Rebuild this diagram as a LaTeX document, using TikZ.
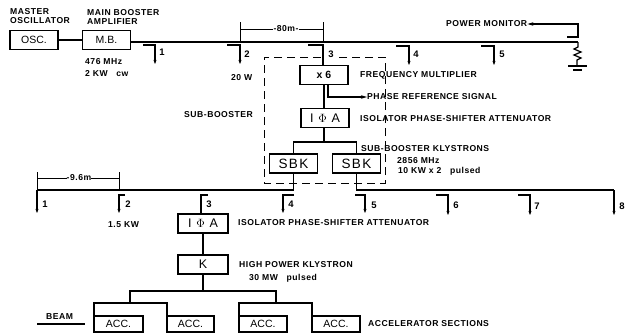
\documentclass[tikz,border=0pt]{standalone}
\usepackage{fontspec}
\setmainfont{Liberation Sans}
\newfontfamily\lblfont[LetterSpace=6]{Liberation Sans}
\newfontfamily\sbkfont[LetterSpace=10]{Liberation Sans}
\usetikzlibrary{arrows.meta}

\tikzset{
    unit/.style={draw, line width=1.4pt, inner sep=0pt, outer sep=0pt, font=\fontsize{10.5}{12}\selectfont},
    box/.style={unit, minimum width=48pt, minimum height=19pt},
    bigbox/.style={box, font=\sbkfont\fontsize{12.5}{13}\selectfont},
    sbkbox/.style={box, font=\sbkfont\fontsize{13.5}{14}\selectfont},
    accbox/.style={unit, minimum height=16pt},
    lbl/.style={anchor=west, inner sep=0pt, font=\lblfont\bfseries\fontsize{8.6}{9}\selectfont},
    tapnum/.style={inner sep=0pt, font=\bfseries\fontsize{9.5}{10}\selectfont},
    wire/.style={line width=1.2pt},
    tap/.style={line width=1.2pt},
    tapend/.style={tap, -{Stealth[length=4pt, width=3pt]}},
    bus/.style={line width=1.4pt},
    dimline/.style={line width=1pt},
}

\begin{document}
\begin{tikzpicture}[x=1pt, y=-1pt, >={Stealth[length=6pt, width=3.5pt]}]

    \useasboundingbox (0,0) rectangle (630,335);

    % --- Boxes ---
    \node[box] (osc) at (34,40) {OSC.};
    \node[box] (mb) at (106.5,40) {M.B.};
    \node[box, font=\bfseries\fontsize{10.5}{12}\selectfont] (mult) at (324,75) {x 6};
    \node[bigbox] (ipa) at (325,118) {I $\Phi$ A};
    \node[sbkbox] (sbkl) at (293.5,163.5) {SBK};
    \node[sbkbox] (sbkr) at (356.5,163.5) {SBK};
    \node[bigbox, minimum width=50pt] (ipb) at (203,223.5) {I $\Phi$ A};
    \node[bigbox, minimum width=50pt] (kly) at (203,264.5) {K};
    \node[accbox, minimum width=49pt] (acca) at (118.5,324) {ACC.};
    \node[accbox, minimum width=47pt] (accb) at (190.5,324) {ACC.};
    \node[accbox, minimum width=48pt] (accc) at (263,324) {ACC.};
    \node[accbox, minimum width=48pt] (accd) at (336,324) {ACC.};

    % --- Labels ---
    \node[lbl, align=left] (mo) at (10,16.5) {MASTER\\OSCILLATOR};
    \node[lbl, align=left] (ma) at (87,16.5) {MAIN BOOSTER\\AMPLIFIER};
    \node[lbl] (fa) at (85,62) {476 MHz};
    \node[lbl] (pa) at (85,74) {2 KW\ \ \ cw};
    \node[lbl] (pb) at (231,78) {20 W};
    \node[lbl] (sb) at (184,115) {SUB-BOOSTER};
    \node[lbl] (fm) at (360,75) {FREQUENCY MULTIPLIER};
    \node[lbl] (pr) at (367,97) {PHASE REFERENCE SIGNAL};
    \node[lbl] (ia) at (360,119) {ISOLATOR PHASE-SHIFTER ATTENUATOR};
    \node[lbl] (sk) at (361,149) {SUB-BOOSTER KLYSTRONS};
    \node[lbl] (fb) at (397,161) {2856 MHz};
    \node[lbl] (pc) at (398,171) {10 KW x 2\ \ \ pulsed};
    \node[lbl] (pd) at (108,225) {1.5 KW};
    \node[lbl] (ib) at (238,223) {ISOLATOR PHASE-SHIFTER ATTENUATOR};
    \node[lbl] (hk) at (239,265) {HIGH POWER KLYSTRON};
    \node[lbl] (pe) at (249,278) {30 MW\ \ \ pulsed};
    \node[lbl] (as) at (368,324) {ACCELERATOR SECTIONS};
    \node[lbl] (bm) at (46,317) {BEAM};
    \node[lbl] (pm) at (446,24) {POWER MONITOR};

    % --- Coordinates ---
    \coordinate (main) at (578,42); % end of the upper line
    \coordinate (pmc) at (567,37);
    \coordinate (lowl) at (37,190);
    \coordinate (lowm) at (293.5,190);
    \coordinate (lowr) at (356.5,190);
    \coordinate (lowe) at (614,190);
    \coordinate (split) at (203,291);
    \coordinate (spa) at (130,303);
    \coordinate (spb) at (276,303);
    \coordinate (bma) at (37,324);
    \coordinate (bmb) at (85,324);

    % --- Upper line ---
    \draw[wire] (osc) -- (mb);
    \draw[bus] (mb.east |- main) -- (main);

    % Taps on the upper line
    \draw[tapend] (143,45) -- (155,45) -- (155,64);
    \draw[tapend] (227,45) -- (240,45) -- (240,64);
    \draw[tap] (308,45) -- (323,45) -- (mult.north -| 323,0);
    \draw[tapend] (396,46) -- (409,46) -- (409,65);
    \draw[tapend] (481,46) -- (494,46) -- (494,65);
    \node[tapnum] (ua) at (162,52) {1};
    \node[tapnum] (ub) at (247,54) {2};
    \node[tapnum] (uc) at (331,54) {3};
    \node[tapnum] (ud) at (416,54) {4};
    \node[tapnum] (ue) at (502,54) {5};

    % Distance between taps
    \draw[dimline] (240,22) -- (240,42);
    \draw[dimline] (323,22) -- (323,42);
    \node[lbl, anchor=center] (dist) at (286,29) {-80m-};
    \draw[dimline] (240,29) -- (dist.west);
    \draw[dimline] (dist.east) -- (323,29);

    % Power monitor and load
    \draw[wire, ->] (pmc) -- (578,37) -- (578,24) -- (pm.east);
    \draw[wire] (main) -- (578,47) -- (574,49) -- (581,52) -- (574,55) -- (581,58) -- (577,60) -- (577,66);
    \draw[line width=1.6pt] (568,66) -- (587,66);
    \draw[line width=1.4pt] (573,70) -- (582,70);

    % --- Sub-booster ---
    \draw[wire] (mult.south -| 324,0) -- (ipa.north -| 324,0);
    \draw[wire] (ipa.south -| 324,0) -- (324,142);
    \draw[wire] (sbkl.north) |- (324,142) -| (sbkr.north);
    \draw[wire, ->] (mult.south -| 328,0) -- (328,97) -- (pr.west);
    \draw[line width=1pt, dash pattern=on 8pt off 5pt]
        (321,57) -- (264,57) -- (264,183) -- (385,183) -- (385,57) -- (338,57);

    % --- Lower line ---
    \draw[bus] (lowl) -- (lowm) -- (sbkl.south);
    \draw[bus] (lowe) -- (lowr) -- (sbkr.south);

    % Taps on the lower line
    \draw[tapend] (lowl) -- (37,213);
    \draw[tapend] (125,195) -- (119,195) -- (119,213);
    \draw[tap] (208,195) -- (201,195) -- (ipb.north -| 201,0);
    \draw[tapend] (294,195) -- (283,195) -- (283,213);
    \draw[tapend] (355,195) -- (365,195) -- (365,213);
    \draw[tapend] (436,195) -- (448,195) -- (448,215);
    \draw[tapend] (518,195) -- (530,195) -- (530,215);
    \draw[tapend] (lowe) -- (614,215);
    \node[tapnum] (la) at (45,204) {1};
    \node[tapnum] (lb) at (128,204) {2};
    \node[tapnum] (lc) at (209,204) {3};
    \node[tapnum] (ld) at (291,204) {4};
    \node[tapnum] (le) at (374,205) {5};
    \node[tapnum] (lf) at (456,205) {6};
    \node[tapnum] (lg) at (537,206) {7};
    \node[tapnum] (lh) at (622,206) {8};

    % Distance between taps
    \draw[dimline] (37,172) -- (lowl);
    \draw[dimline] (119,172) -- (119,190);
    \node[lbl, anchor=center] (pitch) at (79,178) {-9.6m};
    \draw[dimline] (37,178) -- (pitch.west);
    \draw[dimline] (pitch.east) -- (119,178);

    % --- Klystron and sections ---
    \draw[wire] (ipb) -- (kly);
    \draw[wire] (kly) -- (split);
    \draw[wire] (spa) |- (split) -| (spb);
    \draw[wire] (acca.north west) |- (spa) -| (accb.north west);
    \draw[wire] (accc.north west) |- (spb) -| (accd.north west);
    \draw[wire] (bma) -- (bmb);

\end{tikzpicture}
\end{document}
